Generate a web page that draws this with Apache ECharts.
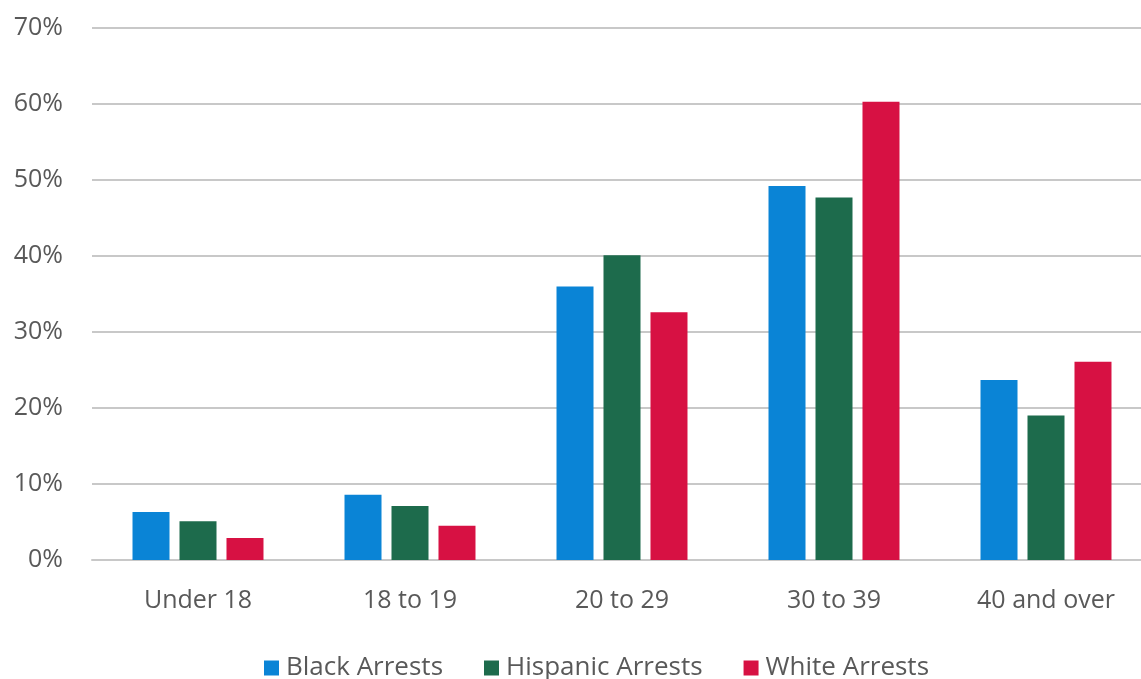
<!DOCTYPE html>
<html>
<head>
<meta charset="utf-8">
<script src="https://cdn.jsdelivr.net/npm/echarts@6/dist/echarts.min.js"></script>
<style>
html,body{margin:0;padding:0;background:#fff;overflow:hidden;}
#chart{width:1152px;height:679px;}
</style>
</head>
<body>
<div id="chart"></div>
<script>
const categories = ['Under 18', '18 to 19', '20 to 29', '30 to 39', '40 and over'];
const blackArrests = [6.3, 8.6, 36.0, 49.2, 23.7];
const hispanicArrests = [5.1, 7.1, 40.1, 47.7, 19.0];
const whiteArrests = [2.9, 4.5, 32.6, 60.3, 26.1];
const seriesNames = ['Black Arrests', 'Hispanic Arrests', 'White Arrests'];
const yTicks = [0, 10, 20, 30, 40, 50, 60, 70];

const font = '"Open Sans", sans-serif';
const textColor = '#595959';
const colors = ['#0a84d6', '#1d6b4c', '#d71143'];

const chart = echarts.init(document.getElementById('chart'));
const mk = (name, data, i) => ({
  name: name,
  type: 'bar',
  data: data,
  barWidth: 37,
  barGap: '27%',
  itemStyle: { color: colors[i] }
});
chart.setOption({
  animation: false,
  color: colors,
  grid: { left: 92, right: 0, top: 28, bottom: 119, containLabel: false },
  legend: {
    data: seriesNames,
    left: 259,
    top: 650,
    itemWidth: 15,
    itemHeight: 15,
    itemGap: 41,
    icon: 'rect',
    textStyle: { color: textColor, fontSize: 26, fontFamily: font, padding: [0, 0, 0, 2] }
  },
  xAxis: {
    type: 'category',
    data: categories,
    axisLine: { show: true, lineStyle: { color: '#c8c8c8', width: 2 } },
    axisTick: { show: false },
    axisLabel: { color: textColor, fontSize: 25, fontFamily: font, margin: 28 }
  },
  yAxis: {
    type: 'value',
    min: yTicks[0],
    max: yTicks[yTicks.length - 1],
    interval: 10,
    axisLine: { show: false },
    axisTick: { show: false },
    splitLine: { lineStyle: { color: '#c8c8c8', width: 2 } },
    axisLabel: { color: textColor, fontSize: 25, fontFamily: font, margin: 29, formatter: v => v + '%' }
  },
  series: [
    mk(seriesNames[0], blackArrests, 0),
    mk(seriesNames[1], hispanicArrests, 1),
    mk(seriesNames[2], whiteArrests, 2)
  ]
});
</script>
</body>
</html>
